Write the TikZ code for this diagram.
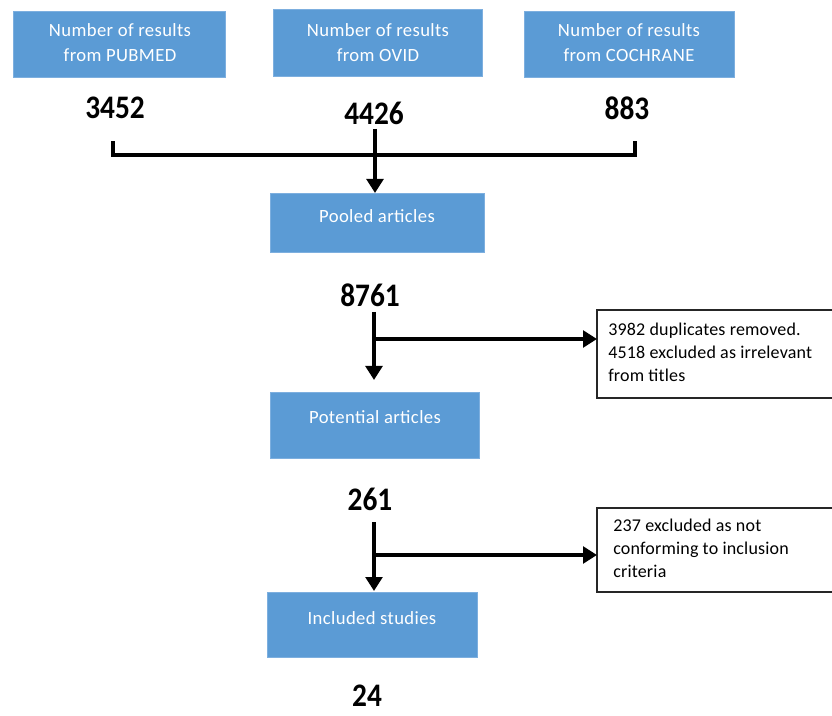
\documentclass[tikz,border=0pt]{standalone}
\usepackage{fontspec}
\setmainfont{Carlito}
\newfontfamily\boxfont[LetterSpace=2]{Carlito}
\newfontfamily\notefont[LetterSpace=1]{Carlito}
\usetikzlibrary{arrows.meta}
\definecolor{boxblue}{HTML}{5B9BD5}
\definecolor{boxedge}{HTML}{7DAFDF}
\newcommand{\tallnum}[1]{\scalebox{1}[1.12]{#1}}
\begin{document}
\begin{tikzpicture}[x=0.75pt,y=-0.75pt,
  bluebox/.style={fill=boxblue,draw=boxedge,line width=0.6pt},
  boxtext/.style={text=white,font=\boxfont\fontsize{14}{18.75}\selectfont,align=center,inner sep=0pt},
  num/.style={font=\fontsize{22}{26}\selectfont\bfseries,inner sep=0pt},
  note/.style={draw=black!85,line width=0.9pt,fill=white},
  notetext/.style={font=\notefont\fontsize{13.5}{17}\selectfont,align=left,anchor=north west,inner sep=0pt},
  conn/.style={line width=3.4pt,draw=black},
  arr/.style={line width=3.4pt,draw=black,-{Triangle[length=10.5pt,width=12.5pt]}}]
\useasboundingbox (0,0) rectangle (832,716);
% top boxes
\path[bluebox] (13,11) rectangle (225,77);
\node[boxtext] (t1) at (120,42.5) {Number of results\\from PUBMED};
\path[bluebox] (273,9) rectangle (482,76);
\node[boxtext] (t2) at (378,42.5) {Number of results\\from OVID};
\path[bluebox] (524,11) rectangle (734,77);
\node[boxtext] (t3) at (629,42.5) {Number of results\\from COCHRANE};
% numbers
\node[num] (n1) at (115,108) {\tallnum{3452}};
\node[num] (n2) at (374,113) {\tallnum{4426}};
\node[num] (n3) at (627,108) {\tallnum{883}};
% bracket
\coordinate (bl) at (113,143);
\coordinate (br) at (635,143);
\coordinate (bml) at (113,155);
\coordinate (bmr) at (635,155);
\draw[conn,line cap=rect] (bl) -- (bml) -- (bmr) -- (br);
% pooled
\path[bluebox] (270,193) rectangle (484,252);
\node[boxtext] (pool) at (377,216) {Pooled articles};
\coordinate (pooltop) at (375,193);
\coordinate (n2b) at (375,129);
\draw[arr] (n2b) -- (pooltop);
\node[num] (n4) at (370,295) {\tallnum{8761}};
% potential
\path[bluebox] (270,392) rectangle (479,458);
\node[boxtext] (pot) at (375,417) {Potential articles};
\coordinate (s1) at (374,312);
\coordinate (e1) at (374,380);
\coordinate (j1) at (374,339);
\draw[arr] (s1) -- (e1);
% note 1
\path[note] (597,310) rectangle (836,398);
\node[notetext] (note1) at (608,323) {3982 duplicates removed.\\4518 excluded as irrelevant\\from titles};
\coordinate (note1w) at (597,339);
\draw[arr] (j1) -- (note1w);
% 261
\node[num] (n5) at (370,499) {\tallnum{261}};
% included
\path[bluebox] (267,592) rectangle (477,657);
\node[boxtext] (inc) at (372,618) {Included studies};
\coordinate (s2) at (374,522);
\coordinate (e2) at (374,591);
\coordinate (j2) at (374,555);
\draw[arr] (s2) -- (e2);
% note 2
\path[note] (597,508) rectangle (836,592);
\node[notetext] (note2) at (613,519) {237 excluded as not\\conforming to inclusion\\criteria};
\coordinate (note2w) at (597,555);
\draw[arr] (j2) -- (note2w);
\node[num] (n6) at (367,696) {\tallnum{24}};
\end{tikzpicture}
\end{document}
